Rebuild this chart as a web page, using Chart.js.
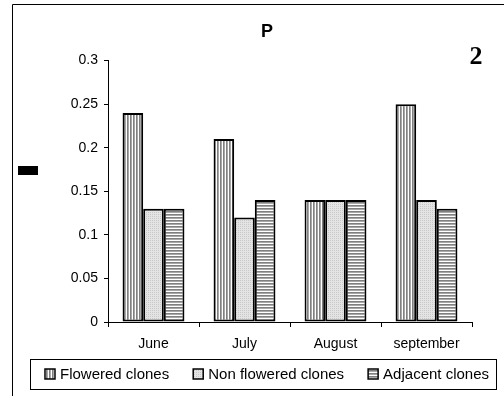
<!DOCTYPE html>
<html>
<head>
<meta charset="utf-8">
<script src="https://cdn.jsdelivr.net/npm/chart.js@4"></script>
<style>
  body { margin: 0; background: #fff; }
  #wrap { width: 504px; height: 396px; }
</style>
</head>
<body>
<div id="wrap"><canvas id="myChart" width="504" height="396"></canvas></div>
<script>
// data
var months = ["June", "July", "August", "september"];
var flowered = [0.24, 0.21, 0.14, 0.25];
var nonFlowered = [0.13, 0.12, 0.14, 0.14];
var adjacent = [0.13, 0.14, 0.14, 0.13];
var yTicks = [0, 0.05, 0.1, 0.15, 0.2, 0.25, 0.3];

// hatch fills like the old excel chart
function makePattern(kind) {
  var c = document.createElement("canvas");
  var ctx = c.getContext("2d");
  if (kind === "vert" || kind === "horiz") {
    c.width = 3; c.height = 3;
    ctx.fillStyle = "#ffffff";
    ctx.fillRect(0, 0, 3, 3);
    ctx.fillStyle = "#808080";
    if (kind === "vert") ctx.fillRect(1, 0, 1, 3); else ctx.fillRect(0, 1, 3, 1);
    ctx.fillStyle = "#a8a8a8";
    if (kind === "vert") ctx.fillRect(2, 0, 1, 3); else ctx.fillRect(0, 2, 3, 1);
  } else {
    c.width = 2; c.height = 2;
    ctx.fillStyle = "#e4e4e4";
    ctx.fillRect(0, 0, 2, 2);
    ctx.fillStyle = "#c8c8c8";
    ctx.fillRect(0, 0, 1, 1);
  }
  return ctx.createPattern(c, "repeat");
}

// frame, boxed legend, the "2" and the little black block
var extras = {
  id: "extras",
  afterDraw: function(chart) {
    var ctx = chart.ctx;
    ctx.save();
    ctx.strokeStyle = "#000";
    ctx.lineWidth = 1;
    ctx.beginPath();
    ctx.moveTo(12.5, 396);
    ctx.lineTo(12.5, 4.5);
    ctx.lineTo(504, 4.5);
    ctx.stroke();

    // legend in a box, built from the datasets
    ctx.strokeRect(30.5, 359.5, 466, 30);
    ctx.font = "15px 'Liberation Sans', Arial, sans-serif";
    ctx.textBaseline = "middle";
    ctx.textAlign = "left";
    var sets = chart.data.datasets;
    var boxW = 10, textGap = 5, itemGap = 24;
    var total = 0;
    sets.forEach(function(ds, i) {
      total += boxW + textGap + ctx.measureText(ds.label).width;
      if (i < sets.length - 1) total += itemGap;
    });
    var x = 267 - total / 2;
    var cy = 374;
    sets.forEach(function(ds) {
      ctx.fillStyle = ds.backgroundColor;
      ctx.fillRect(x, cy - 5, boxW, 10);
      ctx.strokeStyle = "#000";
      ctx.lineWidth = 1.5;
      ctx.strokeRect(x, cy - 5, boxW, 10);
      ctx.fillStyle = "#000";
      x += boxW + textGap;
      ctx.fillText(ds.label, x, cy + 1);
      x += ctx.measureText(ds.label).width + itemGap;
    });

    ctx.fillStyle = "#000";
    ctx.fillRect(18, 166, 20, 9);

    ctx.font = "bold 26px 'Liberation Serif', 'Times New Roman', serif";
    ctx.textAlign = "center";
    ctx.fillText("2", 476, 57);
    ctx.restore();
  }
};

Chart.defaults.font.family = "'Liberation Sans', Arial, sans-serif";
Chart.defaults.color = "#000";

var config = {
  type: "bar",
  data: {
    labels: months,
    datasets: [
      { label: "Flowered clones", data: flowered, backgroundColor: makePattern("vert") },
      { label: "Non flowered clones", data: nonFlowered, backgroundColor: makePattern("dots") },
      { label: "Adjacent clones", data: adjacent, backgroundColor: makePattern("horiz") }
    ].map(function(d) {
      d.borderColor = "#000";
      d.borderWidth = 2;
      d.borderSkipped = false;
      d.categoryPercentage = 0.68;
      d.barPercentage = 1.0;
      return d;
    })
  },
  options: {
    responsive: false,
    animation: false,
    layout: { padding: { left: 30, right: 0, top: 5, bottom: 37 } },
    plugins: {
      title: {
        display: true,
        text: "P",
        font: { size: 18, weight: "bold" },
        padding: { top: 16, bottom: 18 }
      },
      legend: { display: false },
      tooltip: { enabled: false }
    },
    scales: {
      x: {
        grid: { display: true, drawOnChartArea: false, offset: true, color: "#000", tickLength: 5 },
        border: { color: "#000", width: 1 },
        ticks: { font: { size: 14 }, padding: 9 },
        afterFit: function(s) { s.height = 37; }
      },
      y: {
        min: 0,
        max: 0.3,
        afterBuildTicks: function(s) { s.ticks = yTicks.map(function(v) { return { value: v }; }); },
        grid: { display: true, drawOnChartArea: false, color: "#000", tickLength: 4 },
        border: { color: "#000", width: 1 },
        ticks: {
          font: { size: 14 },
          padding: 6,
          callback: function(v) { return String(+(+v).toFixed(2)); }
        },
        afterFit: function(s) { s.width = 78; }
      },
      spacer: {
        type: "linear",
        position: "right",
        grid: { display: false },
        border: { display: false },
        ticks: { display: false },
        afterFit: function(s) { s.width = 32; }
      }
    }
  },
  plugins: [extras]
};

var myChart = new Chart(document.getElementById("myChart"), config);
</script>
</body>
</html>
